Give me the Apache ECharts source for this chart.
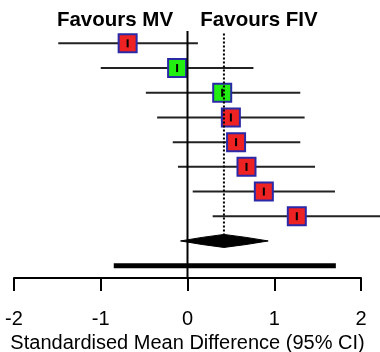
<!DOCTYPE html>
<html>
<head>
<meta charset="utf-8">
<script src="https://cdn.jsdelivr.net/npm/echarts@6/dist/echarts.min.js"></script>
<style>
  html, body { margin: 0; padding: 0; background: #fff; }
  #chart { width: 380px; height: 352px; }
</style>
</head>
<body>
<div id="chart"></div>
<script>
// study estimates (standardised mean difference) and 95% CI
var studyEst   = [-0.69, -0.12, 0.40, 0.50, 0.56, 0.68, 0.88, 1.26];
var studyLower = [-1.49, -1.00, -0.48, -0.35, -0.17, -0.11, 0.06, 0.29];
var studyUpper = [0.12, 0.76, 1.30, 1.35, 1.30, 1.47, 1.70, 2.25];
var studyGroup = ['a', 'b', 'b', 'a', 'a', 'a', 'a', 'a'];

// pooled estimate + prediction interval
var pooled = { est: 0.42, lower: -0.08, upper: 0.93 };
var predInterval = [-0.85, 1.71];

var xTicks = [-2, -1, 0, 1, 2];
var xTitle = 'Standardised Mean Difference (95% CI)';
var leftLabel = 'Favours MV';
var rightLabel = 'Favours FIV';

var FONT = "'Liberation Sans', Arial, sans-serif";
var groupColors = { a: '#ee2222', b: '#22ee11' };

var chart = echarts.init(document.getElementById('chart'));

var nStudies = studyEst.length;
var studyData = [];
for (var i = 0; i < nStudies; i++) {
  studyData.push([studyEst[i], i + 1, studyLower[i], studyUpper[i], studyGroup[i]]);
}
var diamondRow = nStudies + 1;
var predRow = nStudies + 2;

function renderStudy(params, api) {
  var c = api.coord([api.value(0), api.value(1)]);
  var lo = api.coord([api.value(2), api.value(1)]);
  var hi = api.coord([api.value(3), api.value(1)]);
  var s = 18;
  return {
    type: 'group',
    children: [
      { type: 'line', shape: { x1: lo[0], y1: lo[1], x2: hi[0], y2: hi[1] },
        style: { stroke: '#222', lineWidth: 2 } },
      { type: 'rect', shape: { x: c[0] - s / 2, y: c[1] - s / 2, width: s, height: s },
        style: { fill: groupColors[studyGroup[params.dataIndex]], stroke: '#2a2aa8', lineWidth: 2 } },
      { type: 'line', shape: { x1: c[0], y1: c[1] - 4, x2: c[0], y2: c[1] + 4 },
        style: { stroke: '#000', lineWidth: 2 } }
    ]
  };
}

function renderDiamond(params, api) {
  var row = api.value(1);
  var l = api.coord([api.value(2), row]);
  var r = api.coord([api.value(3), row]);
  var c = api.coord([api.value(0), row]);
  var h = 6.5;
  return {
    type: 'polygon',
    shape: { points: [
      [l[0], l[1]],
      [l[0] + (c[0] - l[0]) * 0.5, c[1] - h * 0.55],
      [c[0], c[1] - h],
      [c[0] + (r[0] - c[0]) * 0.5, c[1] - h * 0.55],
      [r[0], r[1]],
      [c[0] + (r[0] - c[0]) * 0.5, c[1] + h * 0.55],
      [c[0], c[1] + h],
      [l[0] + (c[0] - l[0]) * 0.5, c[1] + h * 0.55]
    ] },
    style: { fill: '#000', stroke: '#000', lineWidth: 1 }
  };
}

var option = {
  backgroundColor: '#fff',
  animation: false,
  grid: { left: 14, right: 19, top: 31, bottom: 74, containLabel: false, outerBoundsMode: 'none' },
  xAxis: {
    type: 'value',
    min: xTicks[0],
    max: xTicks[xTicks.length - 1],
    interval: 1,
    name: xTitle,
    nameLocation: 'middle',
    nameGap: 52,
    nameTextStyle: { fontFamily: FONT, fontSize: 20, color: '#000' },
    axisLine: { onZero: false, lineStyle: { color: '#000', width: 2 } },
    axisTick: { length: 13, lineStyle: { color: '#000', width: 2 } },
    axisLabel: { fontFamily: FONT, fontSize: 20, color: '#000', margin: 31 },
    splitLine: { show: false }
  },
  yAxis: {
    type: 'value',
    min: 0.5,
    max: predRow + 0.5,
    inverse: true,
    show: false,
    splitLine: { show: false }
  },
  graphic: [
    { type: 'text', x: 115, y: 20, style: { text: leftLabel, font: 'bold 20.5px ' + FONT,
      fill: '#000', align: 'center', verticalAlign: 'middle' } },
    { type: 'text', x: 259, y: 20, style: { text: rightLabel, font: 'bold 20.5px ' + FONT,
      fill: '#000', align: 'center', verticalAlign: 'middle' } }
  ],
  series: [
    { // line of no effect
      type: 'line', symbol: 'none', silent: true,
      lineStyle: { color: '#000', width: 2 },
      data: [[0, 0.5], [0, predRow + 0.5]]
    },
    { // pooled estimate reference
      type: 'line', symbol: 'none', silent: true,
      lineStyle: { color: '#000', width: 2, type: [2, 2] },
      data: [[pooled.est, 0.6], [pooled.est, diamondRow]]
    },
    { // prediction interval
      type: 'line', symbol: 'none', silent: true,
      lineStyle: { color: '#000', width: 5, cap: 'butt' },
      data: [[predInterval[0], predRow], [predInterval[1], predRow]]
    },
    {
      type: 'custom', clip: false,
      renderItem: renderDiamond,
      data: [[pooled.est, diamondRow, pooled.lower, pooled.upper]]
    },
    {
      type: 'custom', clip: false,
      renderItem: renderStudy,
      data: studyData
    }
  ]
};

chart.setOption(option);
</script>
</body>
</html>
